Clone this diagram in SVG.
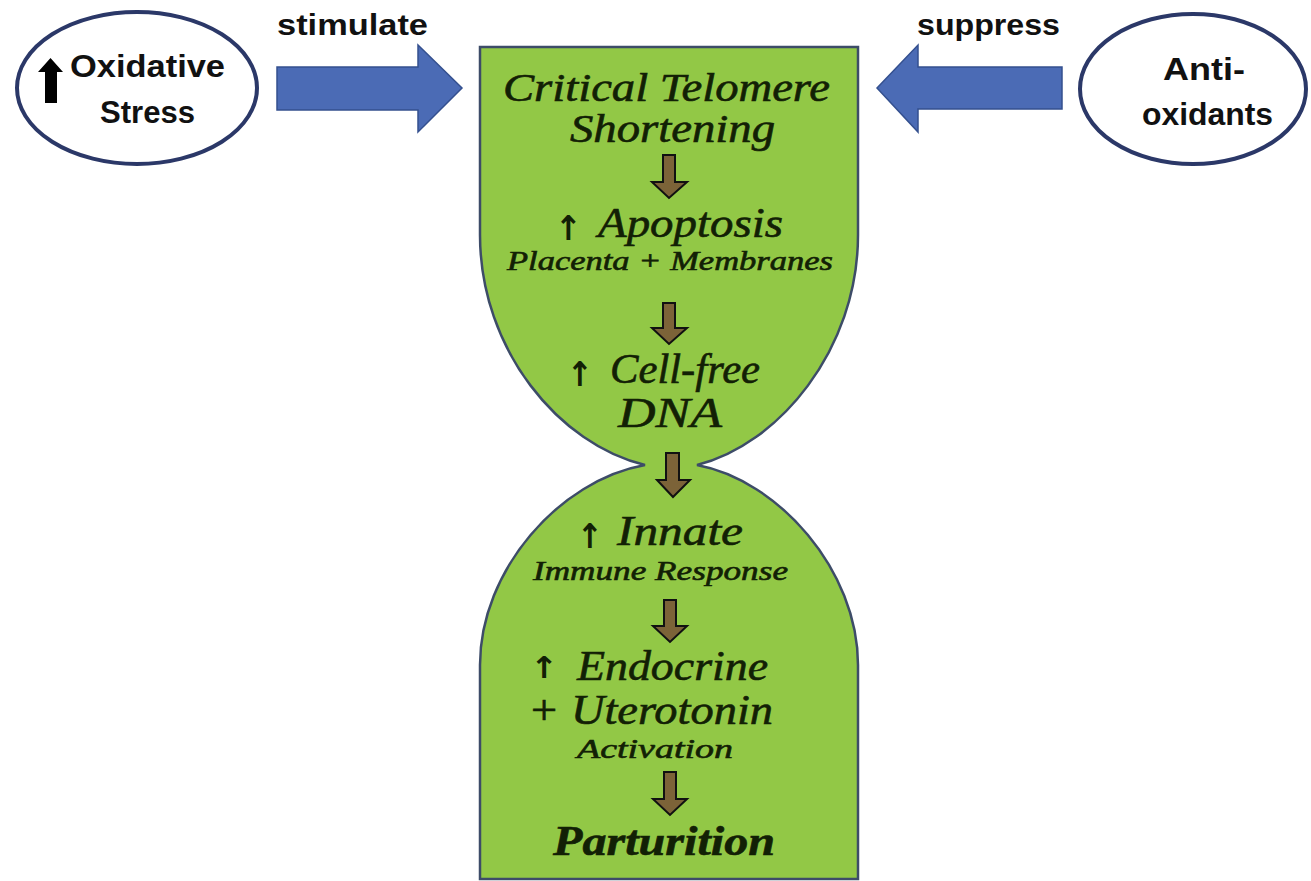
<svg xmlns="http://www.w3.org/2000/svg" width="1311" height="881" viewBox="0 0 1311 881">
<style>
.ell{fill:#fff;stroke:#2b3868;stroke-width:4}
.blue{fill:#4b6bb5;stroke:#34508f;stroke-width:1.5}
.brown{fill:#7c6338;stroke:#111;stroke-width:2}
.lbl{font-family:"Liberation Sans",Arial,sans-serif;font-weight:bold;fill:#111;text-anchor:start}
.cal{font-family:"Liberation Serif","Times New Roman",serif;font-style:italic;fill:#122005;stroke:#122005;stroke-width:0.6}
.arr{font-family:"DejaVu Sans",sans-serif;font-weight:bold;fill:#122005}
</style>
<rect width="1311" height="881" fill="#fff"/>
<g id="hourglass">
<path d="M480,47 L858,47 L858,235 C858,350 778,445 697,465 C778,480 858,570 858,665 L858,879 L480,879 L480,665 C480,570 560,480 645,465 C560,445 480,350 480,235 Z" fill="#92c846" stroke="#3d4c68" stroke-width="2.5"/>
</g>
<g id="oxidative-stress">
<ellipse class="ell" cx="137" cy="88" rx="120" ry="76"/>
<path d="M45,103 L45,72 L38,72 L50.5,58 L63,72 L57,72 L57,103 Z" fill="#000"/>
<text class="lbl" x="70" y="77" font-size="32" textLength="155" lengthAdjust="spacingAndGlyphs">Oxidative</text>
<text class="lbl" x="100" y="123" font-size="32" textLength="95" lengthAdjust="spacingAndGlyphs">Stress</text>
</g>
<g id="antioxidants">
<ellipse class="ell" cx="1193" cy="89" rx="113" ry="75"/>
<text class="lbl" x="1163" y="80" font-size="32" textLength="82" lengthAdjust="spacingAndGlyphs">Anti-</text>
<text class="lbl" x="1142" y="125" font-size="32" textLength="131" lengthAdjust="spacingAndGlyphs">oxidants</text>
</g>
<g id="connectors">
<path class="blue" d="M277,67 L418,67 L418,45 L462,88 L418,132 L418,110 L277,110 Z"/>
<text class="lbl" x="277" y="35" font-size="29" textLength="151" lengthAdjust="spacingAndGlyphs">stimulate</text>
<path class="blue" d="M1062,67 L918,67 L918,45 L877,88 L918,132 L918,109 L1062,109 Z"/>
<text class="lbl" x="917" y="35" font-size="29" textLength="143" lengthAdjust="spacingAndGlyphs">suppress</text>
<path class="brown" d="M663,155 L675,155 L675,182 L687,182 L669,198 L652,182 L663,182 Z"/>
<path class="brown" d="M663,303 L675,303 L675,328 L687,328 L669,344 L652,328 L663,328 Z"/>
<path class="brown" d="M666,453 L679,453 L679,480 L690,480 L673,497 L657,480 L666,480 Z"/>
<path class="brown" d="M664,600 L676,600 L676,626 L687,626 L670,642 L653,626 L664,626 Z"/>
<path class="brown" d="M664,772 L676,772 L676,799 L687,799 L670,815 L653,799 L664,799 Z"/>
</g>
<g id="steps">
<text class="cal" x="503" y="101" font-size="40" textLength="327" lengthAdjust="spacingAndGlyphs">Critical Telomere</text>
<text class="cal" x="570" y="142" font-size="40" textLength="205" lengthAdjust="spacingAndGlyphs">Shortening</text>
<text class="arr" x="555" y="240" font-size="34" textLength="27" lengthAdjust="spacingAndGlyphs">↑</text>
<text class="cal" x="598" y="237" font-size="42" textLength="185" lengthAdjust="spacingAndGlyphs">Apoptosis</text>
<text class="cal" x="507" y="270" font-size="27" textLength="326" lengthAdjust="spacingAndGlyphs">Placenta + Membranes</text>
<text class="arr" x="567" y="386" font-size="34" textLength="26" lengthAdjust="spacingAndGlyphs">↑</text>
<text class="cal" x="610" y="383" font-size="42" textLength="150" lengthAdjust="spacingAndGlyphs">Cell-free</text>
<text class="cal" x="618" y="427" font-size="42" textLength="104" lengthAdjust="spacingAndGlyphs">DNA</text>
<text class="arr" x="577" y="548" font-size="34" textLength="26" lengthAdjust="spacingAndGlyphs">↑</text>
<text class="cal" x="617" y="545" font-size="42" textLength="126" lengthAdjust="spacingAndGlyphs">Innate</text>
<text class="cal" x="533" y="580" font-size="27" textLength="255" lengthAdjust="spacingAndGlyphs">Immune Response</text>
<text class="arr" x="530" y="678" font-size="30" textLength="28" lengthAdjust="spacingAndGlyphs">↑</text>
<text class="cal" x="577" y="680" font-size="42" textLength="191" lengthAdjust="spacingAndGlyphs">Endocrine</text>
<text class="cal" x="528" y="724" font-size="42" textLength="245" lengthAdjust="spacingAndGlyphs">+ Uterotonin</text>
<text class="cal" x="577" y="758" font-size="27" textLength="156" lengthAdjust="spacingAndGlyphs">Activation</text>
<text class="cal" x="553" y="855" font-size="42" font-weight="bold" textLength="222" lengthAdjust="spacingAndGlyphs">Parturition</text>
</g>
</svg>
